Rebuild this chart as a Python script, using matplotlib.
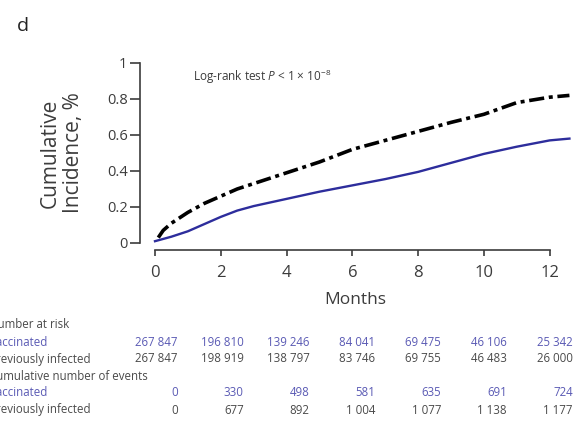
import matplotlib
matplotlib.use("Agg")
import matplotlib.pyplot as plt
import matplotlib.transforms as mtransforms

plt.rcParams['font.family'] = ['Open Sans', 'DejaVu Sans']
plt.rcParams['mathtext.fontset'] = 'custom'
plt.rcParams['mathtext.rm'] = 'Open Sans'
plt.rcParams['mathtext.it'] = 'Open Sans:italic'

# Cumulative incidence curves (%)
months_vacc = [0, 0.5, 1, 1.5, 2, 2.5, 3, 3.5, 4, 5, 6, 7, 8, 9, 10, 11, 12, 12.6]
incidence_vacc = [0.01, 0.035, 0.065, 0.105, 0.145, 0.18, 0.205, 0.225, 0.245,
                  0.285, 0.32, 0.355, 0.395, 0.445, 0.495, 0.535, 0.57, 0.58]
months_prev = [0.1, 0.25, 0.5, 1, 1.5, 2, 2.5, 3, 3.5, 4, 5, 6, 7, 8, 9, 10, 11, 12, 12.6]
incidence_prev = [0.03, 0.07, 0.11, 0.17, 0.22, 0.26, 0.30, 0.33, 0.36, 0.39,
                  0.45, 0.52, 0.57, 0.62, 0.67, 0.715, 0.78, 0.81, 0.82]

# Risk table
table_months = [0, 2, 4, 6, 8, 10, 12]
at_risk_vacc = ["267 847", "196 810", "139 246", "84 041", "69 475", "46 106", "25 342"]
at_risk_prev = ["267 847", "198 919", "138 797", "83 746", "69 755", "46 483", "26 000"]
events_vacc = ["0", "330", "498", "581", "635", "691", "724"]
events_prev = ["0", "677", "892", "1 004", "1 077", "1 138", "1 177"]

x_ticks = [0, 2, 4, 6, 8, 10, 12]
y_ticks = [0, 0.2, 0.4, 0.6, 0.8, 1]
y_ticklabels = ["0", "0.2", "0.4", "0.6", "0.8", "1"]

W, H = 577, 424
BLUE = "#2d2d9c"
BLUE_TXT = "#5a5ab4"
GRAY = "#3c3c3c"
TABLE_GRAY = "#4a4a4a"

fig = plt.figure(figsize=(W / 100, H / 100), dpi=100)


def fx(x):
    return x / W


def fy(y):
    return 1 - y / H


# axes spanning from the y-spine (x=140px) to the right edge, y=63px .. 250px
ax = fig.add_axes([fx(140), fy(250), fx(577) - fx(140), (250 - 63) / H])
ax.set_xlim(-0.456, 12.83)
ax.set_ylim(-0.039, 1.0)

ax.plot(months_prev, incidence_prev, color="black", lw=2.6,
        linestyle=(0, (4.2, 1.3, 1.1, 1.3)))
ax.plot(months_vacc, incidence_vacc, color=BLUE, lw=1.7)

for s in ["top", "right"]:
    ax.spines[s].set_visible(False)
for s in ["left", "bottom"]:
    ax.spines[s].set_color(GRAY)
    ax.spines[s].set_linewidth(1.2)
ax.spines["left"].set_bounds(0, 1)
ax.spines["bottom"].set_bounds(0, 12)

ax.set_xticks(x_ticks)
ax.set_xticklabels([str(t) for t in x_ticks])
ax.set_yticks(y_ticks)
ax.set_yticklabels(y_ticklabels)
ax.tick_params(axis="x", direction="out", length=4.5, width=1.2, color=GRAY,
               labelsize=12, labelcolor=GRAY, pad=6)
ax.tick_params(axis="y", direction="out", length=7, width=1.2, color=GRAY,
               labelsize=10.5, labelcolor=GRAY, pad=2)

fig.text(fx(62), fy(153), "Cumulative\nIncidence, %", rotation=90,
         ha="center", va="center", fontsize=15, color=GRAY, linespacing=1.15)
fig.text(fx(355), fy(300), "Months", ha="center", va="center",
         fontsize=12.5, color=GRAY)
fig.text(fx(17), fy(26), "d", ha="left", va="center", fontsize=14, color="#222222")
fig.text(fx(193), fy(77), r"Log-rank test $\it{P}$ < 1 × 10$^{-8}$",
         ha="left", va="center", fontsize=8.5, color=GRAY)

# number-at-risk / events table under the axis
col_tr = mtransforms.blended_transform_factory(ax.transData, fig.transFigure) + \
    mtransforms.ScaledTranslation(23 / 100, 0, fig.dpi_scale_trans)
label_x = fx(-11)
rows = [
    (325, "Number at risk", TABLE_GRAY, None),
    (342, "Vaccinated", BLUE_TXT, at_risk_vacc),
    (359, "Previously infected", TABLE_GRAY, at_risk_prev),
    (376, "Cumulative number of events", TABLE_GRAY, None),
    (393, "Vaccinated", BLUE_TXT, events_vacc),
    (410, "Previously infected", TABLE_GRAY, events_prev),
]
for y, label, color, values in rows:
    fig.text(label_x, fy(y), label, ha="left", va="center", fontsize=8.3, color=color)
    if values is not None:
        for m, v in zip(table_months, values):
            fig.text(m, fy(y), v, transform=col_tr, ha="right", va="center",
                     fontsize=8.3, color=color)

fig.savefig("out.png", dpi=100)
